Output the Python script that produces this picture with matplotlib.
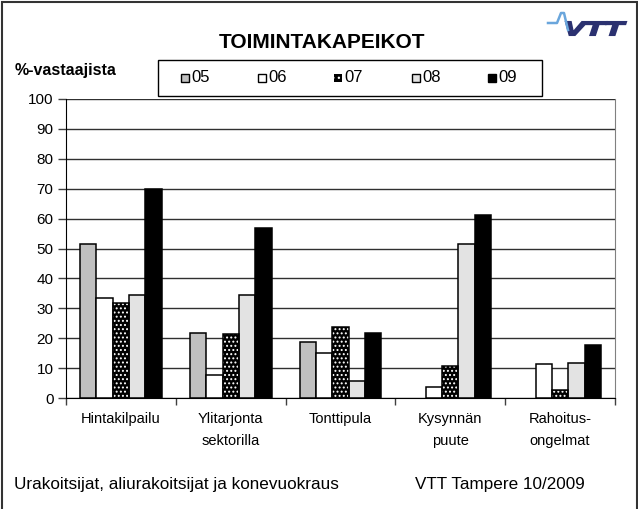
import matplotlib
matplotlib.use("Agg")
import matplotlib.pyplot as plt
import numpy as np
from matplotlib.patches import Rectangle, PathPatch
from matplotlib.lines import Line2D
from matplotlib.textpath import TextPath
from matplotlib.font_manager import FontProperties
from matplotlib.transforms import Affine2D

plt.rcParams['font.family'] = ['Liberation Sans', 'DejaVu Sans']
plt.rcParams['hatch.linewidth'] = 0.9

categories = ["Hintakilpailu", "Ylitarjonta\nsektorilla", "Tonttipula", "Kysynnän\npuute", "Rahoitus-\nongelmat"]
series_names = ["05", "06", "07", "08", "09"]
v05 = [51.5, 21.7, 18.6, 0.0, 0.0]
v06 = [33.5, 7.6, 15.0, 3.8, 11.4]
v07 = [31.9, 21.3, 23.9, 10.7, 2.8]
v08 = [34.3, 34.3, 5.8, 51.5, 11.6]
v09 = [70.0, 56.7, 21.9, 61.2, 17.6]
values = [v05, v06, v07, v08, v09]
yticks = list(range(0, 101, 10))

faces = ["#c0c0c0", "#ffffff", "#000000", "#e3e3e3", "#000000"]
hatches = [None, None, "....", None, None]

W, H = 638, 509
fig = plt.figure(figsize=(W/100, H/100), dpi=100)
ax = fig.add_axes([66/W, 1-398/H, (615-66)/W, (398-99)/H])

x = np.arange(len(categories))
bw = 0.149
for i, (vals, fc, h) in enumerate(zip(values, faces, hatches)):
    pos = x + (i - 2) * bw
    lws = [1.1 if v > 0 else 0 for v in vals]
    if h:
        ax.bar(pos, vals, bw, color=fc, edgecolor="white", hatch=h, linewidth=0, zorder=3)
        ax.bar(pos, vals, bw, fill=False, edgecolor="black", linewidth=lws, zorder=4)
    else:
        ax.bar(pos, vals, bw, color=fc, edgecolor="black", linewidth=lws, zorder=3)

ax.set_xlim(-0.5, len(categories) - 0.5)
ax.set_ylim(0, 100)
ax.set_yticks(yticks)
ax.set_yticklabels([str(t) for t in yticks], fontsize=11)
ax.yaxis.grid(True, color="#303030", linewidth=1.0, zorder=0)
ax.set_axisbelow(True)
ax.tick_params(axis="y", length=6, width=1, color="#404040", pad=3)

ax.set_xticks(np.arange(-0.5, len(categories), 1.0))
ax.set_xticklabels([])
ax.set_xticks(x, minor=True)
ax.set_xticklabels(categories, minor=True, fontsize=10.5, linespacing=1.75)
ax.tick_params(axis="x", which="major", length=5, width=1, color="#404040")
ax.tick_params(axis="x", which="minor", length=0, pad=10)

ax.spines["top"].set_visible(False)
ax.spines["right"].set_color("#808080")
ax.spines["left"].set_color("black")
ax.spines["bottom"].set_color("black")

fig.text(322/W, 1-43/H, "TOIMINTAKAPEIKOT", ha="center", va="center", fontsize=15, fontweight="bold")
fig.text(15/W, 1-70/H, "%-vastaajista", ha="left", va="center", fontsize=11.5, fontweight="bold")

# legend (manual layout)
fig.add_artist(Rectangle((158/W, 1-96/H), (542-158)/W, 36/H, transform=fig.transFigure,
                         fill=False, edgecolor="black", linewidth=1.0))
leg_x = [181, 258, 334, 412, 488]
for lx, name, fc, h in zip(leg_x, series_names, faces, hatches):
    if h:
        fig.add_artist(Rectangle((lx/W, 1-82/H), 8/W, 8/H, transform=fig.transFigure,
                                 facecolor=fc, edgecolor="white", hatch="...", linewidth=0))
    else:
        fig.add_artist(Rectangle((lx/W, 1-82/H), 8/W, 8/H, transform=fig.transFigure,
                                 facecolor=fc, edgecolor="black", linewidth=1.0))
    fig.text((lx+10)/W, 1-78/H, name, ha="left", va="center", fontsize=12)

fig.text(14/W, 1-484/H, "Urakoitsijat, aliurakoitsijat ja konevuokraus", ha="left", va="center", fontsize=12.3)
fig.text(415/W, 1-484/H, "VTT Tampere 10/2009", ha="left", va="center", fontsize=12.3)

# VTT logo
tp = TextPath((0, 0), "VTT", size=12, prop=FontProperties(family="Liberation Sans", weight="bold", style="italic"))
ext = tp.get_extents()
sx = 60 / ext.width
sy = 13 / ext.height
tr = Affine2D().translate(-ext.x0, -ext.y0).scale(sx, sy).translate(566, H-35)
fig.add_artist(PathPatch(tr.transform_path(tp), facecolor="#2b3170", edgecolor="#2b3170",
                         linewidth=1.5, transform=None))
fig.add_artist(Line2D([548/W, 557/W, 561/W, 564/W, 568/W],
                      [1-23/H, 1-23/H, 1-13/H, 1-13/H, 1-30/H],
                      transform=fig.transFigure, color="#6aa6dc", linewidth=1.8))

# frame
fig.add_artist(Rectangle((2/W, -0.01), 635/W, 1 - 2/H + 0.01, transform=fig.transFigure,
                         fill=False, edgecolor="#333333", linewidth=1.5))

fig.savefig("out.png", dpi=100)
